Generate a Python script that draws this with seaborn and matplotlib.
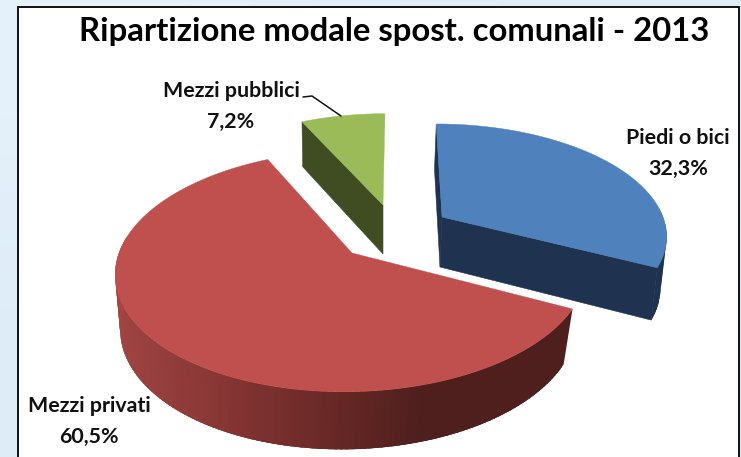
import matplotlib
matplotlib.use('Agg')
import matplotlib.pyplot as plt
import seaborn as sns
import numpy as np

categories = ['Piedi o bici', 'Mezzi privati', 'Mezzi pubblici']
values = [32.3, 60.5, 7.2]
title = 'Ripartizione modale spost. comunali - 2013'

top_colors = ['#4F81BD', '#C0504D', '#9BBB59']
dark_colors = ['#1F3350', '#4E1F1D', '#404D22']

# each slice: centre x, centre y, rx, ry on the top face, then the same for the bottom face
top_geom = [(442, 217, 221, 107), (352, 253, 233, 118), (383, 205, 215, 105)]
bot_geom = [(440, 267, 217, 112), (350, 307, 226, 121), (383, 254, 213, 110)]
label_pos = [(678, 138), (89, 406), (231, 91)]

TILT = 0.15
VANISH_X = 398


def project(geom, theta):
    # theta in degrees, clockwise from north, perspective on the pie plane
    cx, cy, rx, ry = geom
    t = np.radians(theta)
    x, y = np.sin(t), np.cos(t)
    w = 1 + TILT * y
    return cx + (rx * x + TILT * y * (VANISH_X - cx)) / w, cy - ry * y / w


def wedge(geom, start, end):
    th = np.linspace(start, end, 120)
    px, py = project(geom, th)
    return np.r_[geom[0], px], np.r_[geom[1], py]


def side(ax, i, start, end, colors):
    # outer wall as thin strips so the shading can change along the arc
    edges = np.linspace(start, end, len(colors) + 1)
    step = edges[1] - edges[0]
    for a, c in zip(edges[:-1], colors):
        # each strip runs under the next one, otherwise the seams show
        th = np.linspace(a, min(a + 2.5 * step, end), 5)
        x1, y1 = project(top_geom[i], th)
        x2, y2 = project(bot_geom[i], th[::-1])
        ax.fill(np.r_[x1, x2], np.r_[y1, y2], color=c, lw=0, zorder=2)


def cut_face(ax, i, theta, color):
    x1, y1 = project(top_geom[i], theta)
    x2, y2 = project(bot_geom[i], theta)
    ax.fill([top_geom[i][0], x1, x2, bot_geom[i][0]],
            [top_geom[i][1], y1, y2, bot_geom[i][1]], color=color, lw=0.4, zorder=2)


sns.set_theme(style='white')
plt.rcParams['font.family'] = ['Lato', 'DejaVu Sans']

fig = plt.figure(figsize=(7.41, 4.57), dpi=100)
ax = fig.add_axes([0, 0, 1, 1])
ax.axis('off')

# pale blue page behind the chart
grad = np.array([[0.0, 0.35], [0.35, 1.0]])
cmap = sns.blend_palette(['#E4F0FA', '#D3E6F6'], as_cmap=True)
ax.imshow(grad, extent=(0, 741, 457, 0), cmap=cmap, aspect='auto', zorder=0,
          interpolation='bilinear')
ax.set_xlim(0, 741)
ax.set_ylim(457, 0)
ax.fill([18, 739, 739, 18], [7, 7, 470, 470], facecolor='white', edgecolor='#111111',
        lw=1.4, zorder=1)

starts = np.r_[0, np.cumsum(values)[:-1]] * 3.6
ends = np.cumsum(values) * 3.6

# walls
wall = sns.blend_palette(['#4E1F1D', '#4E1F1D', '#4E1F1D', '#6C2A28', '#893735',
                          '#994140', '#A24543', '#A64846'], 130)
side(ax, 1, starts[1], 278, wall)
side(ax, 0, 85, ends[0], ['#1F3350'] * 4)
cut_face(ax, 0, ends[0], dark_colors[0])
cut_face(ax, 0, starts[0], dark_colors[0])
cut_face(ax, 2, starts[2], dark_colors[2])

# top faces
for i in range(len(values)):
    px, py = wedge(top_geom[i], starts[i], ends[i])
    ax.fill(px, py, color=top_colors[i], lw=0.3, zorder=3)

ax.text(394, 32, title, fontsize=23.7, fontweight='bold', color='black',
        ha='center', va='center', zorder=5)

for name, v, (x, y) in zip(categories, values, label_pos):
    pct = f'{v:.1f}'.replace('.', ',') + '%'
    ax.text(x, y, name, fontsize=15.4, fontweight='bold', color='#111111',
            ha='center', va='center', zorder=5)
    ax.text(x, y + 31, pct, fontsize=15.4, fontweight='bold', color='#111111',
            ha='center', va='center', zorder=5)

# leader line for the small slice
ax.plot([303, 312, 341], [97, 96, 116], color='#111111', lw=1.1, zorder=5)

fig.savefig('out.png', dpi=100)
